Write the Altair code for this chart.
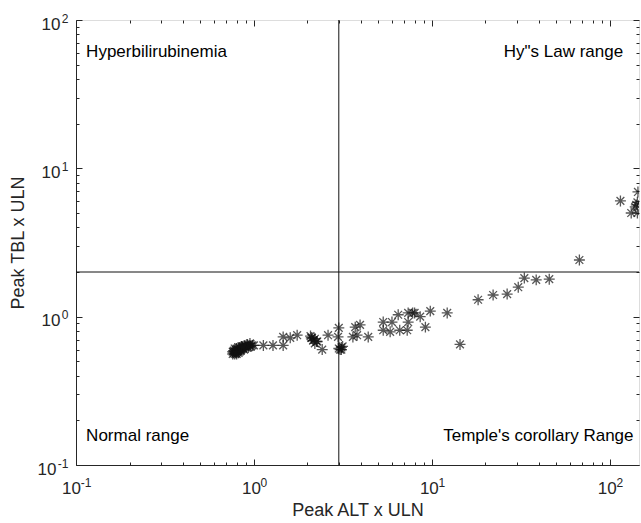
import altair as alt
import pandas as pd

# ---- data ----
peak_alt = [
    0.76, 0.77, 0.77, 0.78, 0.78, 0.79, 0.79, 0.80, 0.80, 0.81, 0.82, 0.82,
    0.83, 0.84, 0.84, 0.85, 0.86, 0.86, 0.87, 0.88, 0.88, 0.89, 0.90, 0.91,
    0.92, 0.93, 0.94, 0.96, 0.98, 0.76, 0.78, 0.80, 0.83, 0.85, 0.95, 1.00,
    1.13, 1.28, 1.46, 1.46, 1.60, 1.75, 2.08, 2.10, 2.12, 2.15, 2.20, 2.20,
    2.25, 2.27, 2.42, 2.61, 2.97, 3.00, 3.00, 3.05, 3.10, 3.10, 3.15, 3.60,
    3.71, 3.80, 3.95, 4.39, 5.33, 5.33, 5.83, 5.97, 6.47, 6.60, 7.27, 7.36,
    7.36, 7.80, 8.00, 8.60, 9.20, 9.80, 12.2, 14.4, 18.2, 22.1, 26.5, 30.6,
    33.1, 38.6, 45.7, 67.5, 114.8, 132.0, 139.0, 141.0, 143.0, 143.0, 144.0,
]
peak_tbl = [
    0.56, 0.57, 0.59, 0.56, 0.58, 0.60, 0.57, 0.58, 0.61, 0.59, 0.57, 0.60,
    0.62, 0.59, 0.61, 0.60, 0.62, 0.63, 0.61, 0.60, 0.63, 0.64, 0.62, 0.63,
    0.65, 0.62, 0.64, 0.63, 0.64, 0.58, 0.61, 0.56, 0.58, 0.63, 0.66, 0.64,
    0.64, 0.64, 0.73, 0.64, 0.72, 0.75, 0.74, 0.72, 0.72, 0.69, 0.71, 0.66,
    0.68, 0.68, 0.60, 0.75, 0.73, 0.84, 0.61, 0.60, 0.62, 0.60, 0.63, 0.73,
    0.85, 0.75, 0.88, 0.73, 0.92, 0.81, 0.79, 0.92, 1.03, 0.81, 0.81, 0.92,
    1.06, 1.06, 1.06, 1.00, 0.85, 1.09, 1.06, 0.65, 1.30, 1.40, 1.42, 1.58,
    1.82, 1.77, 1.79, 2.41, 6.03, 5.00, 5.50, 5.67, 5.00, 5.90, 6.93,
]

ref_alt = [3]
ref_tbl = [2]

region_labels = ["Hyperbilirubinemia", 'Hy"s Law range', "Normal range", "Temple's corollary Range"]
region_x = [0.114, 119, 0.114, 136]
region_y = [61, 61, 0.157, 0.157]
region_align = ["left", "right", "left", "right"]

x_domain = [0.1, 146]
y_domain = [0.1, 100]
major_ticks = [0.1, 1, 10, 100]
tick_base = "10"
tick_exponents = ["-1", "0", "1", "2"]
minor_x = [m * d for d in [0.1, 1, 10, 100] for m in range(2, 10) if m * d <= 146]
minor_y = [m * d for d in [0.1, 1, 10] for m in range(2, 10)]

df = pd.DataFrame({"alt": peak_alt, "tbl": peak_tbl})
ann = pd.DataFrame({"label": region_labels, "x": region_x, "y": region_y, "align": region_align})

FONT = "Liberation Sans"
AX = "#262626"
BASE_FS = 17
EXP_FS = 12

exp_expr = " : ".join(
    f"datum.value < {t * 3} ? '{lab}'" for t, lab in zip(major_ticks[:-1], tick_exponents[:-1])
) + f" : '{tick_exponents[-1]}'"
base_expr = f"'{tick_base}'"

xs = alt.Scale(type="log", domain=x_domain, nice=False)
ys = alt.Scale(type="log", domain=y_domain, nice=False)


def base_axis(orient, values, title, lpad, tpad, off=0, align=None):
    kw = dict(orient=orient, values=values, labelExpr=base_expr, ticks=False,
              domain=title is not None, domainColor=AX, domainWidth=1, grid=False,
              title=title, labelFont=FONT, labelFontSize=BASE_FS, labelColor=AX,
              labelPadding=lpad, labelOffset=off, labelOverlap=False, labelFlush=False)
    if align:
        kw["labelAlign"] = align
    if title is not None:
        kw.update(titleFont=FONT, titleFontSize=18, titleFontWeight="normal",
                  titleColor=AX, titlePadding=tpad)
    return alt.Axis(**kw)


def exp_axis(orient, lpad, off, align):
    return alt.Axis(orient=orient, values=major_ticks, labelExpr=exp_expr, ticks=False,
                    domain=False, grid=False, title=None, labelFont=FONT,
                    labelFontSize=EXP_FS, labelColor=AX, labelPadding=lpad,
                    labelOffset=off, labelAlign=align,
                    labelOverlap=False, labelFlush=False)


def tick_axis(orient, values, size):
    return alt.Axis(orient=orient, values=values, ticks=True, tickSize=size, offset=-size,
                    tickColor=AX, tickWidth=1, domain=False, labels=False, grid=False,
                    title=None)


asterisk = "M-1,0L1,0M0,-1L0,1M-0.71,-0.71L0.71,0.71M-0.71,0.71L0.71,-0.71"

points = alt.Chart(df).mark_point(shape=asterisk, filled=False, size=120, strokeWidth=1.3,
                                  color="#111111", clip=True).encode(
    x=alt.X("alt:Q", scale=xs,
            axis=base_axis("bottom", major_ticks[1:], "Peak ALT x ULN", 15, 5, off=-3, align="center")),
    y=alt.Y("tbl:Q", scale=ys,
            axis=base_axis("left", major_ticks[1:], "Peak TBL x ULN", 16, 14, off=4, align="right")),
)


def ghost(xax, yax):
    return alt.Chart(df).mark_point(opacity=0).encode(
        x=alt.X("alt:Q", scale=xs, axis=xax),
        y=alt.Y("tbl:Q", scale=ys, axis=yax),
    )


g1 = ghost(tick_axis("bottom", major_ticks, 6), tick_axis("left", major_ticks, 6))
g2 = ghost(tick_axis("bottom", minor_x, 3), tick_axis("left", minor_y, 3))
g3 = ghost(tick_axis("top", major_ticks, 6), tick_axis("right", major_ticks, 6))
g4 = ghost(tick_axis("top", minor_x, 3), tick_axis("right", minor_y, 3))
g5 = ghost(exp_axis("bottom", 12, 9.5, "center"), exp_axis("left", 8, -2, "right"))
g6 = ghost(base_axis("bottom", major_ticks[:1], None, 15, 0, off=-5, align="center"),
           base_axis("left", major_ticks[:1], None, 20, 0, off=4, align="right"))

vrule = alt.Chart(pd.DataFrame({"v": ref_alt})).mark_rule(color="#111111", strokeWidth=1).encode(
    x=alt.X("v:Q", scale=xs, axis=None))
hrule = alt.Chart(pd.DataFrame({"h": ref_tbl})).mark_rule(color="#111111", strokeWidth=1).encode(
    y=alt.Y("h:Q", scale=ys, axis=None))

texts = []
for al in ["left", "right"]:
    texts.append(
        alt.Chart(ann).transform_filter(alt.datum.align == al).mark_text(
            align=al, baseline="middle", font=FONT, fontSize=17, color="#000000").encode(
            x=alt.X("x:Q", scale=xs, axis=None),
            y=alt.Y("y:Q", scale=ys, axis=None),
            text="label:N",
        )
    )

chart = alt.layer(vrule, hrule, g1, g2, g3, g4, g5, g6, *texts, points).resolve_axis(
    x="independent", y="independent"
).properties(
    width=563, height=445,
    padding={"left": 76, "top": 20, "right": 2, "bottom": 58},
    autosize="none",
).configure_view(stroke=AX, strokeWidth=1).configure(background="white")

chart.save("out.html", embed_options={"renderer": "svg", "actions": False})
